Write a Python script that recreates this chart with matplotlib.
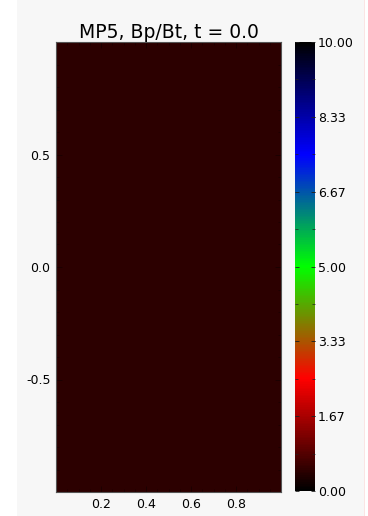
import numpy as np
import matplotlib
matplotlib.use("Agg")
import matplotlib.pyplot as plt
from matplotlib.colors import LinearSegmentedColormap
from matplotlib.patches import Rectangle
from matplotlib.ticker import MultipleLocator, FixedLocator

# Field Bp/Bt on the (x, y) domain at t = 0.0 (uniform initial state)
x_edges = [0.0, 1.0]
y_edges = [-1.0, 1.0]
field_value = [[0.46]]

vmin, vmax = 0.0, 10.0
cbar_ticks = [0.00, 1.67, 3.33, 5.00, 6.67, 8.33, 10.00]
cbar_labels = ["0.00", "1.67", "3.33", "5.00", "6.67", "8.33", "10.00"]
x_ticks = [0.2, 0.4, 0.6, 0.8]
y_ticks = [-0.5, 0.0, 0.5]
title = "MP5, Bp/Bt, t = 0.0"

# black -> red -> green -> blue -> black
cmap = LinearSegmentedColormap.from_list(
    "bgrb",
    [(0.0, (0, 0, 0)), (0.25, (1, 0, 0)), (0.5, (0, 1, 0)),
     (0.75, (0, 0, 1)), (1.0, (0, 0, 0))],
)

fig = plt.figure(figsize=(3.68, 5.16), dpi=100, facecolor="white")
fig.patches.append(Rectangle((17 / 368, 0), (364 - 17) / 368, 1,
                             transform=fig.transFigure, facecolor="#f7f7f7",
                             edgecolor="none", zorder=-10))
fig.patches.append(Rectangle((364 / 368, 0), 1.2 / 368, 1,
                             transform=fig.transFigure, facecolor="#fbe4e4",
                             edgecolor="none", zorder=-10))

ax = fig.add_axes([56 / 368, 24 / 516, 225 / 368, 450 / 516])
X, Y = np.meshgrid(x_edges, y_edges)
mesh = ax.pcolormesh(X, Y, np.array(field_value), cmap=cmap, vmin=vmin, vmax=vmax)
ax.set_xlim(x_edges[0], x_edges[-1])
ax.set_ylim(y_edges[0], y_edges[-1])
ax.set_xticks(x_ticks)
ax.set_xticklabels([f"{t:.1f}" for t in x_ticks])
ax.set_yticks(y_ticks)
ax.set_yticklabels([f"{t:.1f}" for t in y_ticks])
ax.xaxis.set_minor_locator(MultipleLocator(0.05))
ax.yaxis.set_minor_locator(MultipleLocator(0.1))
ax.tick_params(which="both", direction="in", top=True, right=True,
               colors="#1a0000", labelcolor="black", labelsize=9, pad=4)
ax.tick_params(which="major", length=4, width=0.6)
ax.tick_params(which="minor", length=2, width=0.5)
for s in ax.spines.values():
    s.set_color("#555555")
    s.set_linewidth(0.8)
ax.set_title(title, fontsize=13.5, pad=3)

cax = fig.add_axes([295 / 368, 25 / 516, 20 / 368, 449 / 516])
cb = fig.colorbar(mesh, cax=cax, ticks=cbar_ticks)
cb.ax.set_yticklabels(cbar_labels)
cb.outline.set_visible(False)
cb.ax.yaxis.set_minor_locator(FixedLocator(np.linspace(0, 10, 13)))
cb.ax.tick_params(which="both", direction="in", left=True, right=True,
                  colors="#222222", labelcolor="black", labelsize=9, pad=2)
cb.ax.tick_params(which="major", length=3, width=0.6)
cb.ax.tick_params(which="minor", length=2, width=0.5)

fig.savefig("out.png", dpi=100, facecolor=fig.get_facecolor())
